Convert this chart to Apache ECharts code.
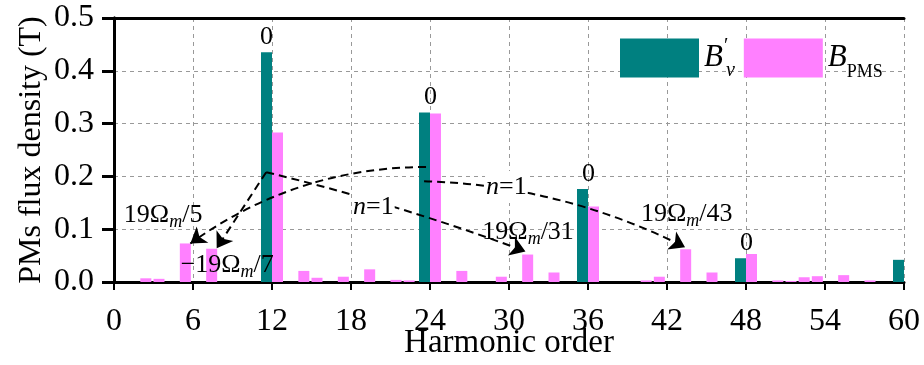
<html>
    <head>
        <meta charset="utf-8">
        <script src="https://cdn.jsdelivr.net/npm/echarts@6/dist/echarts.min.js"></script>
    </head>
    <body>
        <style>
            html, body, #main {
                width: 100%;
                height: 100%;
                margin: 0;
                background: #fff;
            }
        </style>
        <div id="main"></div>
        <script>
            // B'_v harmonics (teal)
            var bvOrders = [12, 24, 36, 48, 60];
            var bvValues = [0.435, 0.321, 0.176, 0.045, 0.042];
            var bvTopLabels = ['0', '0', '0', '0', ''];

            // B_PMS harmonics (pink)
            var pmsOrders = [2, 3, 5, 7, 12, 14, 15, 17, 19, 21, 22, 24, 26, 29, 31, 33, 36,
                             40, 41, 43, 45, 48, 50, 51, 52, 53, 55, 57];
            var pmsValues = [0.007, 0.006, 0.073, 0.063, 0.283, 0.021, 0.008, 0.010, 0.024, 0.004, 0.003, 0.319, 0.021, 0.010, 0.052, 0.018, 0.143,
                             0.003, 0.010, 0.062, 0.018, 0.053, 0.003, 0.002, 0.009, 0.011, 0.013, 0.003];

            // dashed arrows: start, end (harmonic order, flux), curveness
            var arrowFrom = [[11.56, 0.208], [11.56, 0.208], [23.7, 0.218], [23.55, 0.191]];
            var arrowTo = [[7.8, 0.064], [31.25, 0.058], [5.8, 0.073], [43.37, 0.066]];
            var arrowCurve = [0, 0.03, -0.16, 0.11];

            // annotation texts and where they sit
            var annoText = ['{n|19Ω}{m|m}{n|/5}', '{n|−19Ω}{m|m}{n|/7}', '{n|19Ω}{m|m}{n|/31}',
                            '{n|19Ω}{m|m}{n|/43}', '{i|n}{n|=1}', '{i|n}{n|=1}'];
            var annoPos = [[3.73, 0.127], [8.6, 0.032], [31.45, 0.095], [43.5, 0.129], [19.7, 0.142], [29.8, 0.18]];
            var annoMask = [false, false, false, false, true, true];

            var chart = echarts.init(document.getElementById('main'));
            var serif = 'Liberation Serif';

            var bvData = bvOrders.map(function (h, i) {
                return {
                    value: [h, bvValues[i]],
                    label: {
                        show: bvTopLabels[i] !== '',
                        formatter: bvTopLabels[i],
                        offset: i === 0 ? [0, 0] : [6, 0]
                    }
                };
            });
            var pmsData = pmsOrders.map(function (h, i) {
                return [h, pmsValues[i]];
            });

            var arrowData = arrowFrom.map(function (p, i) {
                return {
                    coords: [p, arrowTo[i]],
                    lineStyle: { curveness: arrowCurve[i] }
                };
            });

            var annoData = annoPos.map(function (p, i) {
                return {
                    value: p,
                    label: {
                        formatter: annoText[i],
                        backgroundColor: annoMask[i] ? '#fff' : 'transparent'
                    }
                };
            });

            var richText = {
                n: { fontFamily: serif, fontSize: 26, color: '#000', lineHeight: 32 },
                m: { fontFamily: serif, fontSize: 18, fontStyle: 'italic', color: '#000', verticalAlign: 'bottom' },
                i: { fontFamily: serif, fontSize: 26, fontStyle: 'italic', color: '#000', lineHeight: 32 }
            };

            var option = {
                backgroundColor: '#fff',
                animation: false,
                grid: { left: 114, right: 20, top: 18, bottom: 83, containLabel: false, outerBoundsMode: 'none' },
                legend: {
                    left: 615,
                    top: 32,
                    icon: 'rect',
                    itemWidth: 79,
                    itemHeight: 39,
                    itemGap: 9,
                    selectedMode: false,
                    data: ['Bv', 'BPMS'],
                    formatter: function (name) {
                        return name === 'Bv' ? '{b|B}{p|′}{s|v}' : '{b|B}{t|PMS}';
                    },
                    textStyle: {
                        rich: {
                            b: { fontFamily: serif, fontSize: 31, fontStyle: 'italic', color: '#000', lineHeight: 46 },
                            p: { fontFamily: serif, fontSize: 20, color: '#000', verticalAlign: 'top', width: 0, padding: [2, 0, 0, 1] },
                            s: { fontFamily: serif, fontSize: 20, fontStyle: 'italic', color: '#000', verticalAlign: 'bottom', padding: [0, 0, 0, 2] },
                            t: { fontFamily: serif, fontSize: 18, color: '#000', verticalAlign: 'bottom' }
                        }
                    }
                },
                xAxis: [{
                    type: 'value',
                    min: 0,
                    max: 60,
                    interval: 6,
                    name: 'Harmonic order',
                    nameLocation: 'middle',
                    nameGap: 45,
                    nameMoveOverlap: false,
                    nameTextStyle: { fontFamily: serif, fontSize: 33, color: '#000' },
                    axisLine: { lineStyle: { color: '#000', width: 3 } },
                    axisTick: { length: 8, lineStyle: { color: '#000', width: 2 } },
                    axisLabel: { fontFamily: serif, fontSize: 32, color: '#000', margin: 24 },
                    splitLine: { show: true, lineStyle: { color: '#999', type: [4, 4], width: 1 } }
                }, {
                    type: 'value',
                    position: 'top',
                    min: 0,
                    max: 60,
                    interval: 6,
                    axisLine: { show: true, onZero: false, lineStyle: { color: '#000', width: 3 } },
                    axisTick: { show: false },
                    axisLabel: { show: false },
                    splitLine: { show: false }
                }],
                yAxis: [{
                    type: 'value',
                    min: 0,
                    max: 0.5,
                    interval: 0.1,
                    name: 'PMs flux density (T)',
                    nameLocation: 'middle',
                    nameGap: 66,
                    nameMoveOverlap: false,
                    nameTextStyle: { fontFamily: serif, fontSize: 32, color: '#000' },
                    axisLine: { show: true, lineStyle: { color: '#000', width: 3 } },
                    axisTick: { show: true, length: 12, lineStyle: { color: '#000', width: 3 } },
                    axisLabel: {
                        fontFamily: serif, fontSize: 32, color: '#000', margin: 20,
                        formatter: function (v) { return v.toFixed(1); }
                    },
                    splitLine: { show: true, lineStyle: { color: '#999', type: [4, 4], width: 1 } }
                }, {
                    type: 'value',
                    position: 'right',
                    min: 0,
                    max: 0.5,
                    interval: 0.1,
                    axisLine: { show: true, lineStyle: { color: '#000', width: 3 } },
                    axisTick: { show: true, inside: true, length: 4, lineStyle: { color: '#000', width: 2 } },
                    axisLabel: { show: false },
                    splitLine: { show: false }
                }],
                series: [{
                    name: 'Bv',
                    type: 'bar',
                    barWidth: 11,
                    barGap: '0%',
                    itemStyle: { color: '#008080' },
                    label: {
                        position: 'top',
                        distance: 2,
                        fontFamily: serif,
                        fontSize: 26,
                        color: '#000'
                    },
                    data: bvData
                }, {
                    name: 'BPMS',
                    type: 'bar',
                    barWidth: 11,
                    barGap: '0%',
                    itemStyle: { color: '#ff80ff' },
                    data: pmsData
                }, {
                    type: 'lines',
                    coordinateSystem: 'cartesian2d',
                    z: 4,
                    silent: true,
                    symbol: ['none', 'arrow'],
                    symbolSize: 15,
                    lineStyle: { color: '#000', width: 2, type: [8, 5], opacity: 1 },
                    data: arrowData
                }, {
                    type: 'scatter',
                    symbolSize: 0,
                    z: 6,
                    silent: true,
                    itemStyle: { opacity: 1 },
                    label: {
                        show: true,
                        position: 'inside',
                        color: '#000',
                        opacity: 1,
                        textBorderWidth: 0,
                        padding: [0, 1],
                        rich: richText
                    },
                    data: annoData
                }]
            };

            chart.setOption(option);

            window.onresize = function () {
                chart.resize();
            };
        </script>
    </body>
</html>
